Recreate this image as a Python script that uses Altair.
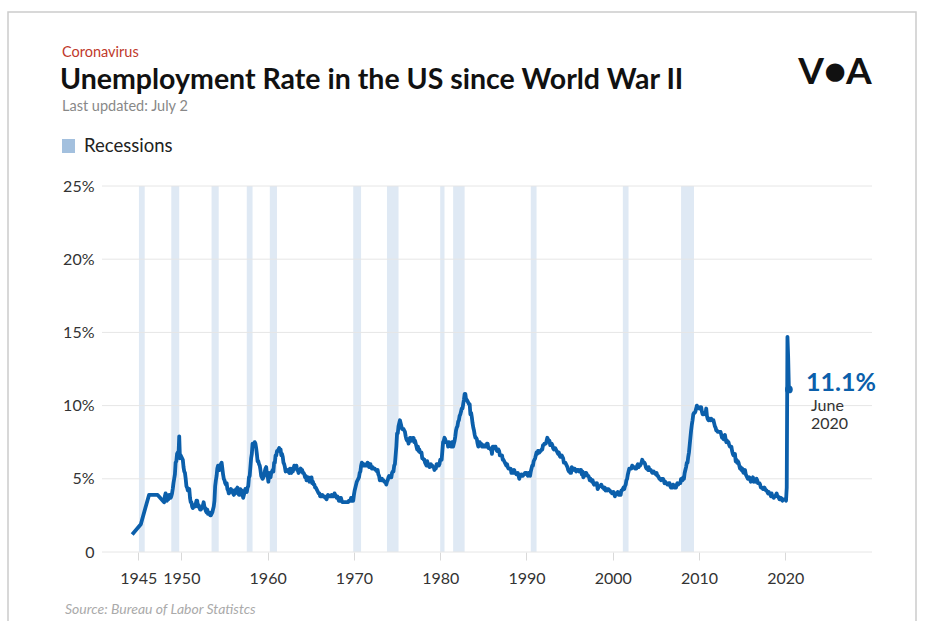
import altair as alt
import pandas as pd

# ---------------- data ----------------
# annual averages before monthly series begins (placed at roughly spring of each year)
early_years = [1944.3, 1945.3, 1946.25, 1947.25]
early_rates = [1.2, 1.9, 3.9, 3.9]

# monthly unemployment rate (%), seasonally adjusted
rates_1948_1959 = [
    3.4, 3.8, 4.0, 3.9, 3.5, 3.6, 3.6, 3.9, 3.8, 3.7, 3.8, 4.0,
    4.3, 4.7, 5.0, 5.3, 6.1, 6.2, 6.7, 6.8, 6.6, 7.9, 6.4, 6.6,
    6.5, 6.4, 6.3, 5.8, 5.5, 5.4, 5.0, 4.5, 4.4, 4.2, 4.2, 4.3,
    3.7, 3.4, 3.4, 3.1, 3.0, 3.2, 3.1, 3.1, 3.3, 3.5, 3.5, 3.1,
    3.2, 3.1, 2.9, 2.9, 3.0, 3.0, 3.2, 3.4, 3.1, 3.0, 2.8, 2.7,
    2.9, 2.6, 2.6, 2.7, 2.5, 2.5, 2.6, 2.7, 2.9, 3.1, 3.5, 4.5,
    4.9, 5.2, 5.7, 5.9, 5.9, 5.6, 5.8, 6.0, 6.1, 5.7, 5.3, 5.0,
    4.9, 4.7, 4.6, 4.7, 4.3, 4.2, 4.0, 4.2, 4.1, 4.3, 4.2, 4.2,
    4.0, 3.9, 4.2, 4.0, 4.3, 4.3, 4.4, 4.1, 3.9, 3.9, 4.3, 4.2,
    4.2, 3.9, 3.7, 3.9, 4.1, 4.3, 4.2, 4.1, 4.4, 4.5, 5.1, 5.2,
    5.8, 6.4, 6.7, 7.4, 7.4, 7.3, 7.5, 7.4, 7.1, 6.7, 6.2, 6.2,
    6.0, 5.9, 5.6, 5.2, 5.1, 5.0, 5.1, 5.2, 5.5, 5.7, 5.8, 5.3,
]
rates_1960s = [
    5.2, 4.8, 5.4, 5.2, 5.1, 5.4, 5.5, 5.6, 5.5, 6.1, 6.1, 6.6,
    6.6, 6.9, 6.9, 7.0, 7.1, 6.9, 7.0, 6.6, 6.7, 6.5, 6.1, 6.0,
    5.8, 5.5, 5.6, 5.6, 5.5, 5.5, 5.4, 5.7, 5.6, 5.4, 5.7, 5.5,
    5.7, 5.9, 5.7, 5.7, 5.9, 5.6, 5.6, 5.4, 5.5, 5.5, 5.7, 5.5,
    5.6, 5.4, 5.4, 5.3, 5.1, 5.2, 4.9, 5.0, 5.1, 5.1, 4.8, 5.0,
    4.9, 5.1, 4.7, 4.8, 4.6, 4.6, 4.4, 4.4, 4.3, 4.2, 4.1, 4.0,
    4.0, 3.8, 3.8, 3.8, 3.9, 3.8, 3.8, 3.8, 3.7, 3.7, 3.6, 3.8,
    3.9, 3.8, 3.8, 3.8, 3.8, 3.9, 3.8, 3.8, 3.8, 4.0, 3.9, 3.8,
    3.7, 3.8, 3.7, 3.5, 3.5, 3.7, 3.7, 3.5, 3.4, 3.4, 3.4, 3.4,
    3.4, 3.4, 3.4, 3.4, 3.4, 3.5, 3.5, 3.5, 3.7, 3.7, 3.5, 3.5,
]
rates_1970s = [
    3.9, 4.2, 4.4, 4.6, 4.8, 4.9, 5.0, 5.1, 5.4, 5.5, 5.9, 6.1,
    5.9, 5.9, 6.0, 5.9, 5.9, 5.9, 6.0, 6.1, 6.0, 5.8, 6.0, 6.0,
    5.8, 5.7, 5.8, 5.7, 5.7, 5.7, 5.6, 5.6, 5.5, 5.6, 5.3, 5.2,
    4.9, 5.0, 4.9, 5.0, 4.9, 4.9, 4.8, 4.8, 4.8, 4.6, 4.8, 4.9,
    5.1, 5.2, 5.1, 5.1, 5.1, 5.4, 5.5, 5.5, 5.9, 6.0, 6.6, 7.2,
    8.1, 8.1, 8.6, 8.8, 9.0, 8.8, 8.6, 8.4, 8.4, 8.4, 8.3, 8.2,
    7.9, 7.7, 7.6, 7.7, 7.4, 7.6, 7.8, 7.8, 7.6, 7.7, 7.8, 7.8,
    7.5, 7.6, 7.4, 7.2, 7.0, 7.2, 6.9, 7.0, 6.8, 6.8, 6.8, 6.4,
    6.4, 6.3, 6.3, 6.1, 6.0, 5.9, 6.2, 5.9, 6.0, 5.8, 5.9, 6.0,
    5.9, 5.9, 5.8, 5.8, 5.6, 5.7, 5.7, 6.0, 5.9, 6.0, 5.9, 6.0,
]
rates_1980s = [
    6.3, 6.3, 6.3, 6.9, 7.5, 7.6, 7.8, 7.7, 7.5, 7.5, 7.5, 7.2,
    7.5, 7.4, 7.4, 7.2, 7.5, 7.5, 7.2, 7.4, 7.6, 7.9, 8.3, 8.5,
    8.6, 8.9, 9.0, 9.3, 9.4, 9.6, 9.8, 9.8, 10.1, 10.4, 10.8, 10.8,
    10.4, 10.4, 10.3, 10.2, 10.1, 10.1, 9.4, 9.5, 9.2, 8.8, 8.5, 8.3,
    8.0, 7.8, 7.8, 7.7, 7.4, 7.2, 7.5, 7.5, 7.3, 7.4, 7.2, 7.3,
    7.3, 7.2, 7.2, 7.3, 7.2, 7.4, 7.4, 7.1, 7.1, 7.1, 7.0, 7.0,
    6.7, 7.2, 7.2, 7.1, 7.2, 7.2, 7.0, 6.9, 7.0, 7.0, 6.9, 6.6,
    6.6, 6.6, 6.6, 6.3, 6.3, 6.2, 6.1, 6.0, 5.9, 6.0, 5.8, 5.7,
    5.7, 5.7, 5.7, 5.4, 5.6, 5.4, 5.4, 5.6, 5.4, 5.4, 5.3, 5.3,
    5.4, 5.2, 5.0, 5.2, 5.2, 5.3, 5.2, 5.2, 5.3, 5.3, 5.4, 5.4,
]
rates_1990s = [
    5.4, 5.3, 5.2, 5.4, 5.4, 5.2, 5.5, 5.7, 5.9, 5.9, 6.2, 6.3,
    6.4, 6.6, 6.8, 6.7, 6.9, 6.9, 6.8, 6.9, 6.9, 7.0, 7.0, 7.3,
    7.3, 7.4, 7.4, 7.4, 7.6, 7.8, 7.7, 7.6, 7.6, 7.3, 7.4, 7.4,
    7.3, 7.1, 7.0, 7.1, 7.1, 7.0, 6.9, 6.8, 6.7, 6.8, 6.6, 6.5,
    6.6, 6.6, 6.5, 6.4, 6.1, 6.1, 6.1, 6.0, 5.9, 5.8, 5.6, 5.5,
    5.6, 5.4, 5.4, 5.8, 5.6, 5.6, 5.7, 5.7, 5.6, 5.5, 5.6, 5.6,
    5.6, 5.5, 5.5, 5.6, 5.6, 5.3, 5.5, 5.1, 5.2, 5.2, 5.4, 5.4,
    5.3, 5.2, 5.2, 5.1, 4.9, 5.0, 4.9, 4.8, 4.9, 4.7, 4.6, 4.7,
    4.6, 4.6, 4.7, 4.3, 4.4, 4.5, 4.5, 4.5, 4.6, 4.5, 4.4, 4.4,
    4.3, 4.4, 4.2, 4.3, 4.2, 4.3, 4.3, 4.2, 4.2, 4.1, 4.1, 4.0,
]
rates_2000s = [
    4.0, 4.1, 4.0, 3.8, 4.0, 4.0, 4.0, 4.1, 3.9, 3.9, 3.9, 3.9,
    4.2, 4.2, 4.3, 4.4, 4.3, 4.5, 4.6, 4.9, 5.0, 5.3, 5.5, 5.7,
    5.7, 5.7, 5.7, 5.9, 5.8, 5.8, 5.8, 5.7, 5.7, 5.7, 5.9, 6.0,
    5.8, 5.9, 5.9, 6.0, 6.1, 6.3, 6.2, 6.1, 6.1, 6.0, 5.8, 5.7,
    5.7, 5.6, 5.8, 5.6, 5.6, 5.6, 5.5, 5.4, 5.4, 5.5, 5.4, 5.4,
    5.3, 5.4, 5.2, 5.2, 5.1, 5.0, 5.0, 4.9, 5.0, 5.0, 5.0, 4.9,
    4.7, 4.8, 4.7, 4.7, 4.6, 4.6, 4.7, 4.7, 4.5, 4.4, 4.5, 4.4,
    4.6, 4.5, 4.4, 4.5, 4.4, 4.6, 4.7, 4.6, 4.7, 4.7, 4.7, 5.0,
    5.0, 4.9, 5.1, 5.0, 5.4, 5.6, 5.8, 6.1, 6.1, 6.5, 6.8, 7.3,
    7.8, 8.3, 8.7, 9.0, 9.4, 9.5, 9.5, 9.6, 9.8, 10.0, 9.9, 9.9,
]
rates_2010_2020 = [
    9.8, 9.8, 9.9, 9.9, 9.6, 9.4, 9.4, 9.5, 9.5, 9.4, 9.8, 9.3,
    9.1, 9.0, 9.0, 9.1, 9.0, 9.1, 9.0, 9.0, 9.0, 8.8, 8.6, 8.5,
    8.3, 8.3, 8.2, 8.2, 8.2, 8.2, 8.2, 8.0, 7.8, 7.8, 7.7, 7.9,
    8.0, 7.7, 7.5, 7.6, 7.5, 7.5, 7.3, 7.2, 7.2, 7.2, 6.9, 6.7,
    6.6, 6.7, 6.7, 6.2, 6.3, 6.1, 6.2, 6.1, 5.9, 5.7, 5.8, 5.6,
    5.7, 5.5, 5.4, 5.4, 5.6, 5.3, 5.2, 5.1, 5.0, 5.0, 5.1, 5.0,
    4.8, 4.9, 5.0, 5.1, 4.8, 4.9, 4.8, 4.9, 5.0, 4.9, 4.7, 4.7,
    4.7, 4.6, 4.4, 4.4, 4.4, 4.3, 4.3, 4.4, 4.3, 4.2, 4.2, 4.1,
    4.0, 4.1, 4.0, 4.0, 3.8, 4.0, 3.8, 3.8, 3.7, 3.8, 3.8, 3.9,
    4.0, 3.8, 3.8, 3.7, 3.6, 3.6, 3.7, 3.6, 3.5, 3.6, 3.6, 3.6,
    3.6, 3.5, 4.4, 14.7, 13.3, 11.1,
]
monthly_start_year = 1948

# NBER recessions (start, end) as decimal years
recession_starts = [1945.08, 1948.83, 1953.5, 1957.58, 1960.25, 1969.92, 1973.83,
                    1980.0, 1981.5, 1990.5, 2001.17, 2007.92]
recession_ends = [1945.75, 1949.75, 1954.33, 1958.25, 1961.08, 1970.83, 1975.17,
                  1980.5, 1982.83, 1991.17, 2001.83, 2009.42]

x_ticks = [1945, 1950, 1960, 1970, 1980, 1990, 2000, 2010, 2020]
y_ticks = [0, 5, 10, 15, 20, 25]

latest_year = 2020 + 5 / 12
latest_rate = 11.1

# ---------------- build tables ----------------
monthly = (rates_1948_1959 + rates_1960s + rates_1970s + rates_1980s
           + rates_1990s + rates_2000s + rates_2010_2020)
years = list(early_years) + [monthly_start_year + i / 12 for i in range(len(monthly))]
rates = list(early_rates) + monthly
line_df = pd.DataFrame({"year": years, "rate": rates})
rec_df = pd.DataFrame({"start": recession_starts, "end": recession_ends})
last_df = pd.DataFrame({"year": [latest_year], "rate": [latest_rate]})

FONT = "Lato"
BLUE = "#0b5fab"
W, H = 770, 366

xscale = alt.Scale(domain=[1940.8, 2030.05], nice=False, zero=False)
yscale = alt.Scale(domain=[0, 25], nice=False)

bands = alt.Chart(rec_df).mark_rect(color="#dfe9f4").encode(
    x=alt.X("start:Q", scale=xscale,
            axis=alt.Axis(values=x_ticks, format="d", title=None, grid=False,
                          domain=False, tickColor="#d9d9d9", tickSize=8,
                          labelFontSize=16, labelColor="#333333", labelFont=FONT,
                          labelPadding=10)),
    x2="end:Q",
)

grid = alt.Chart(pd.DataFrame({"v": y_ticks})).mark_rule(color="#e6e6e6", strokeWidth=1).encode(
    y=alt.Y("v:Q", scale=yscale,
            axis=alt.Axis(values=y_ticks, title=None, grid=False, domain=False, ticks=False,
                          labelExpr="datum.value == 0 ? '0' : datum.value + '%'",
                          labelFontSize=16, labelColor="#333333", labelFont=FONT,
                          labelPadding=8)),
)

line = alt.Chart(line_df).mark_line(color=BLUE, strokeWidth=3.8, strokeJoin="round").encode(
    x=alt.X("year:Q", scale=xscale),
    y=alt.Y("rate:Q", scale=yscale),
)

dot = alt.Chart(last_df).mark_point(filled=True, color=BLUE, size=60, opacity=1).encode(
    x=alt.X("year:Q", scale=xscale),
    y=alt.Y("rate:Q", scale=yscale),
)

def txt(text, x, y, size, color="#222222", weight="normal", style="normal", align="left"):
    return alt.Chart(pd.DataFrame({"t": [text]})).mark_text(
        font=FONT, fontSize=size, color=color, fontWeight=weight, fontStyle=style,
        align=align, baseline="middle",
    ).encode(x=alt.value(x), y=alt.value(y), text="t:N")

ox, oy = 102, 186  # plot origin in page coordinates
annotations = [
    txt("Coronavirus", 62 - ox, 53 - oy, 14.5, color="#c0392b"),
    txt("Unemployment Rate in the US since World War II", 60 - ox, 80 - oy, 28.5,
        color="#111111", weight="bold"),
    txt("Last updated: July 2", 62 - ox, 107 - oy, 14.5, color="#888888"),
    txt("Recessions", 84 - ox, 146 - oy, 18.5, color="#222222"),
    txt("V\u25cfA", 835 - ox, 73 - oy, 37, color="#111111", weight="bold", align="center"),
    txt("11.1%", 806 - ox, 383 - oy, 25, color=BLUE, weight="bold"),
    txt("June", 811 - ox, 406 - oy, 16, color="#333333"),
    txt("2020", 811 - ox, 424 - oy, 16, color="#333333"),
    txt("Source: Bureau of Labor Statistcs", 65 - ox, 610 - oy, 14, color="#aaaaaa", style="italic"),
]

legend_sq = alt.Chart(pd.DataFrame({"a": [0]})).mark_rect(color="#a3c0de").encode(
    x=alt.value(62 - ox), x2=alt.value(75 - ox), y=alt.value(139 - oy), y2=alt.value(153 - oy)
)

frame = alt.Chart(pd.DataFrame({"a": [0]})).mark_rect(
    fill=None, stroke="#cccccc", strokeWidth=1.5
).encode(
    x=alt.value(8 - ox), x2=alt.value(916 - ox), y=alt.value(12 - oy), y2=alt.value(700 - oy)
)

chart = alt.layer(frame, bands, grid, line, dot, legend_sq, *annotations).properties(
    width=W, height=H,
    autosize=alt.AutoSizeParams(type="none"),
    padding={"left": ox, "top": oy, "right": 927 - ox - W, "bottom": 621 - oy - H},
    background="white",
).configure_view(stroke=None, clip=False)

chart.save("out.html", embed_options={"renderer": "svg", "actions": False})
